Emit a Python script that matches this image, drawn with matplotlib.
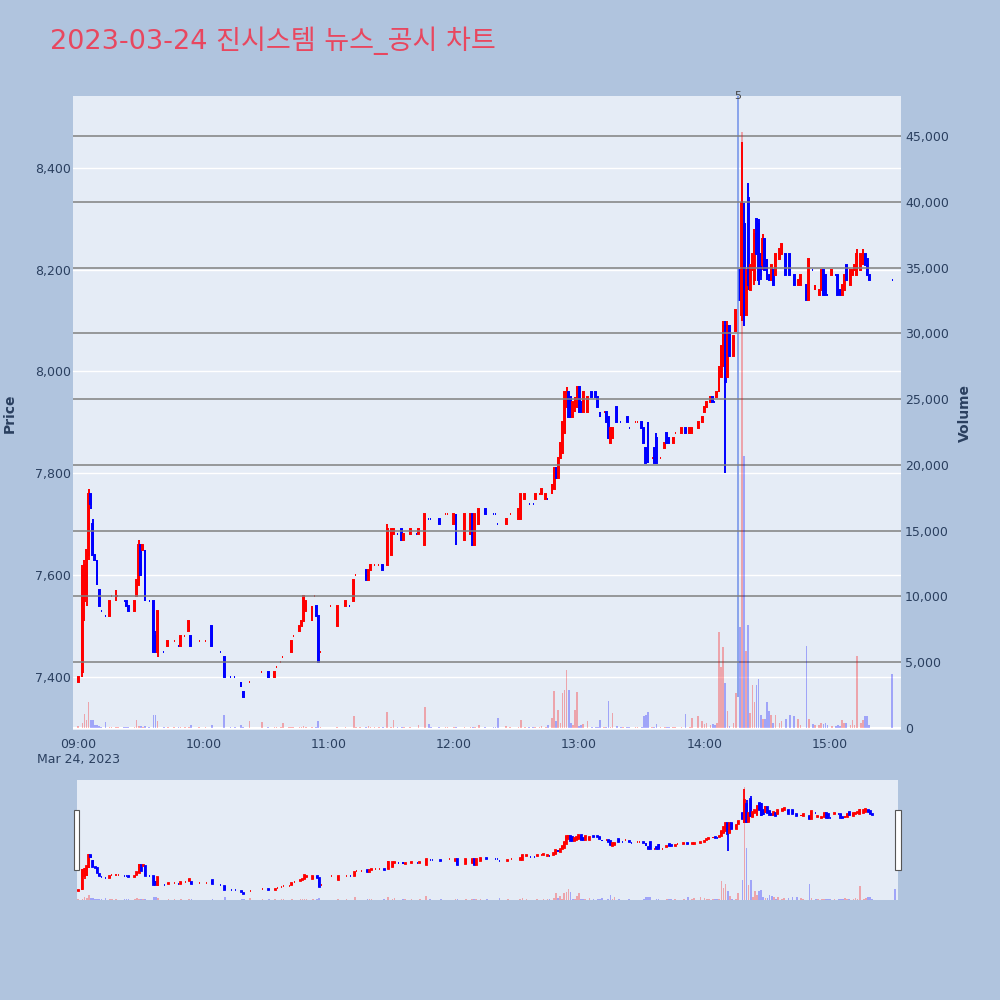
import numpy as np
import pandas as pd
import matplotlib
matplotlib.use('Agg')
import matplotlib.pyplot as plt
import matplotlib.dates as mdates
import matplotlib.transforms as mtransforms
from matplotlib.patches import Rectangle

DAY = '2023-03-24'
TITLE = '2023-03-24 진시스템 뉴스_공시 차트'

# one row of 10 candles per line, same layout in every list
times = [
    '09:00', '09:02', '09:03', '09:04', '09:05', '09:06', '09:07', '09:08', '09:09', '09:10',
    '09:11', '09:13', '09:15', '09:16', '09:18', '09:19', '09:22', '09:23', '09:24', '09:27',
    '09:28', '09:29', '09:30', '09:31', '09:32', '09:34', '09:36', '09:37', '09:38', '09:41',
    '09:43', '09:46', '09:48', '09:49', '09:51', '09:53', '09:54', '09:58', '10:01', '10:04',
    '10:08', '10:10', '10:13', '10:15', '10:18', '10:19', '10:22', '10:28', '10:31', '10:34',
    '10:35', '10:37', '10:38', '10:41', '10:42', '10:43', '10:46', '10:47', '10:48', '10:49',
    '10:52', '10:53', '10:54', '10:55', '10:56', '11:01', '11:04', '11:08', '11:10', '11:12',
    '11:13', '11:15', '11:18', '11:19', '11:20', '11:22', '11:24', '11:26', '11:28', '11:30',
    '11:31', '11:33', '11:35', '11:36', '11:39', '11:42', '11:43', '11:46', '11:48', '11:49',
    '11:53', '11:56', '11:57', '12:00', '12:01', '12:05', '12:08', '12:09', '12:10', '12:12',
    '12:15', '12:19', '12:20', '12:21', '12:25', '12:27', '12:31', '12:32', '12:34', '12:36',
    '12:38', '12:39', '12:41', '12:42', '12:44', '12:45', '12:47', '12:48', '12:49', '12:50',
    '12:51', '12:52', '12:53', '12:54', '12:55', '12:56', '12:57', '12:58', '12:59', '13:00',
    '13:01', '13:02', '13:04', '13:06', '13:08', '13:09', '13:10', '13:12', '13:13', '13:14',
    '13:15', '13:16', '13:18', '13:20', '13:21', '13:23', '13:24', '13:27', '13:28', '13:30',
    '13:31', '13:32', '13:33', '13:35', '13:36', '13:37', '13:39', '13:41', '13:42', '13:43',
    '13:45', '13:46', '13:49', '13:51', '13:53', '13:54', '13:57', '13:59', '14:00', '14:01',
    '14:03', '14:04', '14:05', '14:06', '14:07', '14:08', '14:09', '14:10', '14:11', '14:12',
    '14:14', '14:15', '14:17', '14:18', '14:19', '14:20', '14:21', '14:22', '14:23', '14:24',
    '14:25', '14:26', '14:27', '14:28', '14:29', '14:30', '14:31', '14:32', '14:33', '14:34',
    '14:36', '14:37', '14:39', '14:41', '14:43', '14:45', '14:46', '14:49', '14:50', '14:52',
    '14:53', '14:55', '14:56', '14:57', '14:58', '14:59', '15:01', '15:03', '15:04', '15:05',
    '15:06', '15:07', '15:08', '15:10', '15:11', '15:12', '15:13', '15:15', '15:16', '15:17',
    '15:18', '15:19', '15:30',
]
opens = [
    7390, 7410, 7550, 7560, 7640, 7760, 7700, 7640, 7630, 7570,
    7530, 7520, 7520, 7560, 7560, 7560, 7550, 7550, 7540, 7530,
    7560, 7580, 7660, 7650, 7650, 7550, 7550, 7480, 7450, 7450,
    7460, 7470, 7460, 7460, 7480, 7490, 7480, 7470, 7470, 7500,
    7450, 7440, 7400, 7400, 7390, 7370, 7390, 7410, 7410, 7400,
    7420, 7430, 7440, 7440, 7450, 7480, 7490, 7500, 7510, 7530,
    7510, 7560, 7540, 7520, 7450, 7540, 7500, 7540, 7540, 7550,
    7600, 7600, 7610, 7590, 7610, 7620, 7620, 7620, 7620, 7640,
    7680, 7680, 7690, 7670, 7680, 7680, 7680, 7660, 7710, 7710,
    7710, 7720, 7720, 7700, 7720, 7670, 7680, 7720, 7660, 7700,
    7730, 7720, 7720, 7700, 7700, 7720, 7710, 7710, 7750, 7740,
    7740, 7750, 7760, 7760, 7750, 7750, 7760, 7770, 7810, 7790,
    7830, 7840, 7880, 7930, 7960, 7950, 7910, 7920, 7930, 7970,
    7940, 7920, 7920, 7960, 7960, 7950, 7920, 7920, 7920, 7910,
    7860, 7870, 7930, 7900, 7920, 7910, 7890, 7900, 7900, 7900,
    7890, 7850, 7900, 7830, 7850, 7870, 7830, 7850, 7880, 7870,
    7860, 7880, 7880, 7890, 7880, 7880, 7890, 7900, 7920, 7930,
    7940, 7950, 7940, 7950, 7960, 7990, 8010, 8090, 7990, 8090,
    8030, 8080, 8200, 8110, 8290, 8110, 8340, 8160, 8200, 8180,
    8300, 8290, 8230, 8210, 8260, 8220, 8190, 8180, 8200, 8190,
    8220, 8230, 8230, 8230, 8190, 8170, 8170, 8170, 8140, 8200,
    8160, 8150, 8160, 8200, 8190, 8150, 8190, 8190, 8190, 8160,
    8150, 8160, 8210, 8170, 8190, 8200, 8190, 8200, 8210, 8230,
    8220, 8190, 8180,
]
highs = [
    7400, 7620, 7630, 7650, 7770, 7760, 7710, 7640, 7630, 7570,
    7530, 7520, 7550, 7560, 7570, 7560, 7550, 7550, 7540, 7550,
    7590, 7670, 7660, 7660, 7650, 7550, 7550, 7490, 7530, 7450,
    7470, 7470, 7460, 7480, 7480, 7510, 7480, 7470, 7470, 7500,
    7450, 7440, 7400, 7400, 7390, 7370, 7390, 7410, 7410, 7410,
    7420, 7430, 7440, 7440, 7470, 7480, 7500, 7510, 7560, 7550,
    7540, 7560, 7540, 7520, 7450, 7540, 7540, 7550, 7540, 7590,
    7600, 7600, 7610, 7610, 7620, 7620, 7620, 7620, 7700, 7690,
    7690, 7680, 7690, 7680, 7690, 7680, 7690, 7720, 7710, 7710,
    7710, 7720, 7720, 7720, 7720, 7720, 7720, 7720, 7720, 7730,
    7730, 7720, 7720, 7700, 7710, 7720, 7730, 7760, 7760, 7740,
    7740, 7760, 7760, 7770, 7760, 7750, 7780, 7810, 7810, 7830,
    7860, 7900, 7960, 7970, 7960, 7950, 7940, 7950, 7970, 7970,
    7940, 7960, 7950, 7960, 7960, 7950, 7920, 7920, 7920, 7910,
    7890, 7890, 7930, 7900, 7920, 7910, 7890, 7900, 7900, 7900,
    7890, 7850, 7900, 7830, 7850, 7880, 7830, 7860, 7880, 7870,
    7870, 7880, 7890, 7890, 7890, 7890, 7900, 7910, 7930, 7940,
    7950, 7950, 7940, 7960, 8010, 8050, 8100, 8100, 8100, 8090,
    8070, 8120, 8200, 8450, 8330, 8200, 8370, 8210, 8230, 8280,
    8300, 8300, 8230, 8270, 8260, 8220, 8190, 8210, 8200, 8230,
    8240, 8250, 8230, 8230, 8190, 8180, 8190, 8170, 8220, 8200,
    8170, 8160, 8200, 8200, 8190, 8150, 8200, 8190, 8190, 8160,
    8170, 8190, 8210, 8200, 8200, 8210, 8240, 8230, 8240, 8230,
    8220, 8190, 8180,
]
lows = [
    7390, 7400, 7510, 7540, 7630, 7730, 7640, 7630, 7580, 7540,
    7530, 7520, 7520, 7560, 7550, 7560, 7550, 7540, 7530, 7530,
    7560, 7580, 7600, 7650, 7550, 7550, 7450, 7450, 7440, 7450,
    7460, 7470, 7460, 7460, 7480, 7490, 7460, 7470, 7470, 7460,
    7450, 7400, 7400, 7400, 7380, 7360, 7390, 7410, 7400, 7400,
    7420, 7430, 7440, 7440, 7450, 7480, 7490, 7500, 7510, 7530,
    7510, 7560, 7520, 7430, 7450, 7540, 7500, 7540, 7540, 7550,
    7600, 7600, 7590, 7590, 7610, 7620, 7620, 7610, 7620, 7640,
    7680, 7680, 7670, 7670, 7680, 7680, 7680, 7660, 7710, 7710,
    7700, 7720, 7720, 7700, 7660, 7670, 7680, 7660, 7660, 7700,
    7720, 7720, 7720, 7700, 7700, 7720, 7710, 7710, 7750, 7740,
    7740, 7750, 7760, 7760, 7750, 7750, 7760, 7770, 7790, 7790,
    7830, 7840, 7880, 7930, 7910, 7910, 7910, 7920, 7930, 7920,
    7920, 7920, 7920, 7950, 7950, 7930, 7910, 7920, 7900, 7870,
    7860, 7870, 7900, 7900, 7920, 7900, 7890, 7900, 7900, 7890,
    7860, 7820, 7820, 7830, 7820, 7820, 7830, 7850, 7860, 7860,
    7860, 7880, 7880, 7880, 7880, 7880, 7890, 7900, 7920, 7930,
    7940, 7940, 7940, 7950, 7960, 7990, 8010, 7800, 7990, 8030,
    8030, 8080, 8140, 8100, 8090, 8110, 8160, 8160, 8200, 8170,
    8230, 8170, 8180, 8200, 8200, 8180, 8180, 8180, 8170, 8190,
    8220, 8230, 8190, 8190, 8170, 8170, 8170, 8140, 8140, 8200,
    8160, 8150, 8160, 8150, 8150, 8150, 8190, 8190, 8150, 8150,
    8150, 8160, 8180, 8170, 8190, 8200, 8190, 8200, 8210, 8210,
    8190, 8180, 8180,
]
closes = [
    7400, 7610, 7620, 7650, 7760, 7740, 7640, 7630, 7580, 7540,
    7530, 7520, 7550, 7560, 7560, 7560, 7550, 7540, 7530, 7550,
    7590, 7660, 7600, 7660, 7550, 7550, 7450, 7450, 7530, 7450,
    7470, 7470, 7460, 7480, 7480, 7510, 7460, 7470, 7470, 7460,
    7450, 7400, 7400, 7400, 7380, 7360, 7390, 7410, 7400, 7410,
    7420, 7430, 7440, 7440, 7470, 7480, 7500, 7510, 7560, 7550,
    7540, 7560, 7520, 7430, 7450, 7540, 7540, 7550, 7540, 7590,
    7600, 7600, 7590, 7610, 7620, 7620, 7620, 7610, 7690, 7690,
    7690, 7680, 7670, 7680, 7690, 7680, 7690, 7720, 7710, 7710,
    7700, 7720, 7720, 7720, 7660, 7720, 7720, 7660, 7720, 7730,
    7720, 7720, 7720, 7700, 7710, 7720, 7730, 7760, 7760, 7740,
    7740, 7760, 7760, 7770, 7760, 7750, 7780, 7810, 7790, 7830,
    7860, 7900, 7960, 7960, 7910, 7910, 7940, 7950, 7970, 7920,
    7920, 7960, 7950, 7950, 7950, 7930, 7910, 7920, 7900, 7870,
    7890, 7890, 7900, 7900, 7920, 7900, 7890, 7900, 7900, 7890,
    7860, 7820, 7820, 7830, 7820, 7820, 7830, 7860, 7860, 7860,
    7870, 7880, 7890, 7880, 7890, 7890, 7900, 7910, 7930, 7940,
    7950, 7940, 7940, 7960, 8010, 8050, 8090, 7980, 8090, 8030,
    8070, 8120, 8140, 8330, 8110, 8200, 8170, 8210, 8230, 8270,
    8230, 8180, 8190, 8260, 8200, 8180, 8180, 8210, 8170, 8230,
    8240, 8250, 8190, 8190, 8170, 8180, 8190, 8140, 8220, 8200,
    8170, 8160, 8200, 8150, 8150, 8150, 8200, 8190, 8150, 8150,
    8170, 8190, 8180, 8200, 8200, 8210, 8230, 8230, 8240, 8210,
    8190, 8180, 8180,
]
volumes = [
    120, 400, 1080, 600, 1950, 630, 630, 200, 200, 150,
    100, 480, 60, 50, 80, 40, 60, 70, 90, 100,
    580, 150, 120, 60, 150, 40, 1000, 1000, 500, 40,
    60, 80, 40, 60, 40, 60, 200, 40, 40, 200,
    30, 1000, 40, 40, 200, 60, 500, 420, 60, 50,
    40, 50, 380, 40, 60, 40, 50, 50, 130, 60,
    60, 30, 80, 500, 40, 30, 60, 50, 30, 940,
    40, 40, 80, 120, 50, 40, 40, 60, 1200, 100,
    630, 40, 60, 50, 80, 30, 230, 1600, 300, 40,
    60, 40, 40, 60, 80, 60, 50, 70, 60, 250,
    60, 40, 40, 760, 180, 40, 60, 580, 60, 40,
    40, 60, 40, 180, 60, 250, 760, 2780, 500, 1400,
    400, 2660, 2900, 4430, 2900, 380, 200, 1400, 2700, 150,
    200, 300, 550, 60, 60, 80, 630, 40, 60, 2020,
    80, 1140, 150, 40, 40, 60, 40, 40, 40, 60,
    890, 1000, 1200, 40, 80, 300, 40, 60, 80, 60,
    60, 40, 80, 1100, 60, 760, 890, 500, 300, 400,
    200, 300, 200, 370, 7300, 4650, 6180, 3450, 1320, 150,
    380, 2660, 7680, 45300, 20700, 5870, 7830, 1160, 3270, 2000,
    3270, 3740, 1000, 700, 700, 1970, 1330, 1000, 380, 1000,
    380, 500, 700, 1000, 900, 650, 200, 6230, 650, 300,
    250, 250, 380, 300, 380, 200, 150, 150, 250, 150,
    600, 380, 400, 250, 600, 250, 5470, 380, 600, 900,
    900, 250, 4100,
]

news_time = '14:16'
news_label = '5'

price_ticks = [7400, 7600, 7800, 8000, 8200, 8400]
volume_ticks = [0, 5000, 10000, 15000, 20000, 25000, 30000, 35000, 40000, 45000]
hour_ticks = ['09:00', '10:00', '11:00', '12:00', '13:00', '14:00', '15:00']

UP = '#FF0000'
DOWN = '#0000FF'
PAPER = '#B0C4DE'
PLOT_BG = '#E5ECF6'
TXT = '#2a3f5f'
MIN = 1.0 / 1440

assert len(times) == len(opens) == len(highs) == len(lows) == len(closes) == len(volumes)


def to_num(hhmm):
    return mdates.date2num(pd.Timestamp(DAY + ' ' + hhmm))


def candle_colors(o, c):
    # same rule as plotly: flat candles follow the move from the previous close
    cols = []
    prev_c = None
    up = True
    for oo, cc in zip(o, c):
        if cc > oo:
            up = True
        elif cc < oo:
            up = False
        elif prev_c is not None and cc != prev_c:
            up = cc > prev_c
        cols.append(UP if up else DOWN)
        prev_c = cc
    return cols


def draw_candles(ax, x, o, h, l, c, cols, lw):
    ax.vlines(x, l, h, colors=cols, linewidth=lw, zorder=3)
    lo = np.minimum(o, c)
    ht = np.abs(c - o)
    ax.bar(x, ht, width=0.45 * MIN, bottom=lo, color=cols, edgecolor=cols,
           linewidth=lw, zorder=3)


def main():
    x = np.array([to_num(t) for t in times])
    o = np.array(opens, dtype=float)
    h = np.array(highs, dtype=float)
    l = np.array(lows, dtype=float)
    c = np.array(closes, dtype=float)
    v = np.array(volumes, dtype=float)
    cols = candle_colors(o, c)
    t0 = to_num('09:00')

    price_lim = (7296, 8541)
    vol_lim = (-152, 48040)

    fig = plt.figure(figsize=(10, 10), dpi=100, facecolor=PAPER)

    # main chart
    ax = fig.add_axes([0.073, 0.270, 0.828, 0.634], facecolor=PLOT_BG)
    ax2 = ax.twinx()
    draw_candles(ax, x, o, h, l, c, cols, 1.4)
    ax2.axhline(0, color='white', linewidth=1.5, zorder=1)
    ax2.bar(x, v, width=0.8 * MIN, color=cols, alpha=0.3, zorder=2)

    ax.set_xlim(t0 - 2.5 * MIN, t0 + 394.2 * MIN)
    ax.set_ylim(*price_lim)
    ax2.set_ylim(*vol_lim)

    ax.set_yticks(price_ticks)
    ax.set_yticklabels(['{:,}'.format(p) for p in price_ticks])
    ax2.set_yticks(volume_ticks)
    ax2.set_yticklabels(['{:,}'.format(p) for p in volume_ticks])
    ax.set_xticks([to_num(t) for t in hour_ticks])
    labels = list(hour_ticks)
    labels[0] = labels[0] + '\nMar 24, 2023'
    ax.set_xticklabels(labels)

    ax.yaxis.grid(True, color='white', linewidth=1.0)
    ax.set_axisbelow(True)
    ax2.yaxis.grid(True, color='#808080', linewidth=1.1)
    ax2.set_axisbelow(True)

    for a in (ax, ax2):
        for s in a.spines.values():
            s.set_visible(False)
    ax.tick_params(axis='x', length=0, pad=6, labelsize=9, labelcolor=TXT)
    ax.tick_params(axis='y', length=0, pad=1.5, labelsize=9, labelcolor=TXT)
    ax2.tick_params(axis='y', length=0, pad=3, labelsize=9, labelcolor=TXT)

    ax.set_ylabel('Price', fontsize=10, fontweight='bold', color=TXT)
    ax.yaxis.set_label_coords(-0.0676, 0.5)
    ax2.set_ylabel('Volume', fontsize=10, fontweight='bold', color=TXT)
    ax2.yaxis.set_label_coords(1.0688, 0.5)

    # news marker
    nx = to_num(news_time)
    ax.vlines(nx, l.min(), price_lim[1], colors='#7090e8', linewidth=1.1, zorder=4)
    trans = mtransforms.blended_transform_factory(ax.transData, ax.transAxes)
    ax.text(nx, 1.0, news_label, transform=trans, ha='center', va='center',
            fontsize=8, color='#444444', zorder=6, clip_on=False)

    # range slider
    sl = fig.add_axes([0.077, 0.100, 0.821, 0.120], facecolor=PLOT_BG)
    sl2 = sl.twinx()
    draw_candles(sl, x, o, h, l, c, cols, 1.3)
    sl2.bar(x, v, width=0.8 * MIN, color=cols, alpha=0.3, zorder=2)
    sl.set_xlim(t0 - 0.62 * MIN, t0 + 391.3 * MIN)
    sl.set_ylim(*price_lim)
    sl2.set_ylim(*vol_lim)
    for a in (sl, sl2):
        a.set_xticks([])
        a.set_yticks([])
        for s in a.spines.values():
            s.set_visible(False)

    for hx in (0.0737, 0.8954):
        fig.patches.append(Rectangle((hx, 0.130), 0.0055, 0.060, transform=fig.transFigure,
                                     facecolor='white', edgecolor='#555555', linewidth=0.8))

    fig.text(0.05, 0.959, TITLE, fontsize=19.5, color='#E8475F', va='center', ha='left',
             family=['DejaVu Sans', 'Noto Sans CJK KR'])

    fig.savefig('out.png', dpi=100, facecolor=PAPER)


if __name__ == '__main__':
    main()
